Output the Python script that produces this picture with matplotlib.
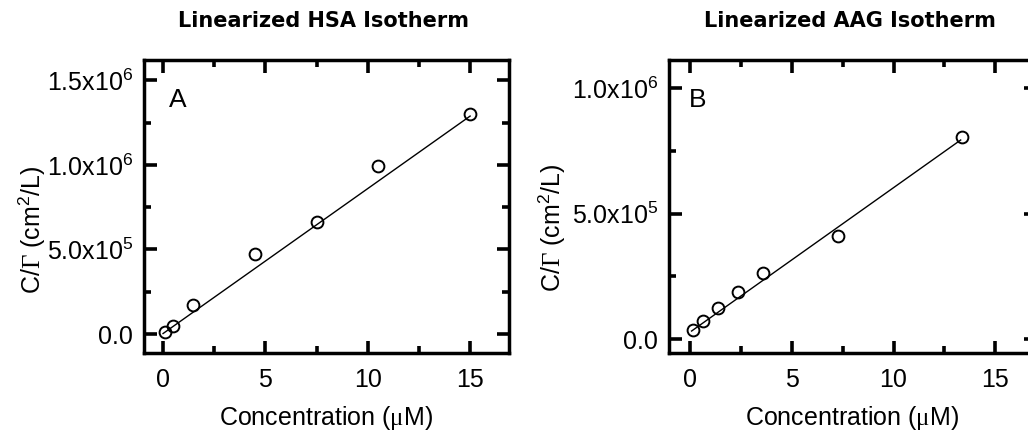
import matplotlib
matplotlib.use("Agg")
import matplotlib.pyplot as plt
import numpy as np
from matplotlib.ticker import FixedLocator

plt.rcParams['font.family'] = ['Liberation Sans', 'DejaVu Sans']
plt.rcParams['mathtext.fontset'] = 'custom'
plt.rcParams['mathtext.rm'] = 'Liberation Sans'
plt.rcParams['mathtext.it'] = 'Liberation Sans:italic'
plt.rcParams['mathtext.bf'] = 'Liberation Sans:bold'
plt.rcParams['mathtext.cal'] = 'Liberation Serif'

# ---------------- data ----------------
hsa_conc = [0.1, 0.47, 1.45, 4.5, 7.5, 10.5, 15.0]
hsa_ratio = [1.0e4, 4.7e4, 1.7e5, 4.75e5, 6.6e5, 9.94e5, 1.30e6]
hsa_fit_slope = 8.57e4
hsa_fit_intercept = 3.0e3
hsa_fit_range = [0.0, 15.0]

aag_conc = [0.13, 0.62, 1.39, 2.38, 3.6, 7.26, 13.36]
aag_ratio = [3.7e4, 7.3e4, 1.25e5, 1.87e5, 2.64e5, 4.1e5, 8.07e5]
aag_fit_slope = 5.76e4
aag_fit_intercept = 2.8e4
aag_fit_range = [0.08, 13.3]

x_ticks = [0, 5, 10, 15]
x_ticklabels = ['0', '5', '10', '15']
x_minor = [2.5, 7.5, 12.5]

hsa_yticks = [0, 5e5, 1e6, 1.5e6]
hsa_yticklabels = ['0.0', r'5.0x10$^5$', r'1.0x10$^6$', r'1.5x10$^6$']
hsa_yminor = [2.5e5, 7.5e5, 1.25e6]

aag_yticks = [0, 5e5, 1e6]
aag_yticklabels = ['0.0', r'5.0x10$^5$', r'1.0x10$^6$']
aag_yminor = [2.5e5, 7.5e5]

titles = ['Linearized HSA Isotherm', 'Linearized AAG Isotherm']
panel_letters = ['A', 'B']
xlabel = r'Concentration ($\mathcal{\mu}$M)'
ylabel = r'C/$\mathcal{\Gamma}$ (cm$^2$/L)'

# ---------------- figure ----------------
W, H = 1028, 438
fig = plt.figure(figsize=(W / 100, H / 100), dpi=100)

def px_axes(x0, x1, y0, y1):
    return fig.add_axes([x0 / W, 1 - y1 / H, (x1 - x0) / W, (y1 - y0) / H])

axA = px_axes(144, 509, 60, 353)
axB = px_axes(669, 1036, 60, 353)

FS = 18

def style(ax, xlim, ylim, yt, ytl, ymin, letter, letter_x, ylab_x, ylab_y):
    ax.set_xlim(*xlim)
    ax.set_ylim(*ylim)
    ax.xaxis.set_major_locator(FixedLocator(x_ticks))
    ax.set_xticklabels(x_ticklabels)
    ax.xaxis.set_minor_locator(FixedLocator(x_minor))
    ax.yaxis.set_major_locator(FixedLocator(yt))
    ax.set_yticklabels(ytl)
    ax.yaxis.set_minor_locator(FixedLocator(ymin))
    ax.tick_params(which='both', direction='in', top=True, right=True,
                   width=2.6, colors='black', labelsize=FS)
    ax.tick_params(which='major', length=9)
    ax.tick_params(which='minor', length=5)
    ax.tick_params(axis='x', which='major', pad=11)
    ax.tick_params(axis='y', which='major', pad=8)
    for s in ax.spines.values():
        s.set_linewidth(2.5)
    ax.set_xlabel(xlabel, fontsize=FS)
    ax.xaxis.label.set_va('center')
    ax.xaxis.set_label_coords(0.5, -0.222)
    ax.set_ylabel(ylabel, fontsize=FS)
    ax.yaxis.label.set_va('center')
    ax.yaxis.set_label_coords(ylab_x, ylab_y)
    ax.text(letter_x, 0.863, letter, transform=ax.transAxes, fontsize=FS + 1,
            ha='center', va='center')

style(axA, (-0.93, 16.9), (-1.12e5, 1.62e6), hsa_yticks, hsa_yticklabels,
      hsa_yminor, panel_letters[0], 0.093, -0.307, 0.42)
style(axB, (-1.03, 17.0), (-5.5e4, 1.113e6), aag_yticks, aag_yticklabels,
      aag_yminor, panel_letters[1], 0.079, -0.319, 0.427)

for ax, cx, cy, slope, icpt, rng in [
        (axA, hsa_conc, hsa_ratio, hsa_fit_slope, hsa_fit_intercept, hsa_fit_range),
        (axB, aag_conc, aag_ratio, aag_fit_slope, aag_fit_intercept, aag_fit_range)]:
    fx = np.array(rng)
    ax.plot(fx, icpt + slope * fx, color='black', lw=1.0, zorder=2)
    ax.plot(cx, cy, 'o', ms=8.5, mfc='none', mec='black', mew=1.4, zorder=3)

fig.text(324 / W, 1 - 21 / H, titles[0], ha='center', va='center',
         fontsize=15, fontweight='bold', family='DejaVu Sans')
fig.text(850 / W, 1 - 21 / H, titles[1], ha='center', va='center',
         fontsize=15, fontweight='bold', family='DejaVu Sans')

fig.savefig('out.png', dpi=100)
